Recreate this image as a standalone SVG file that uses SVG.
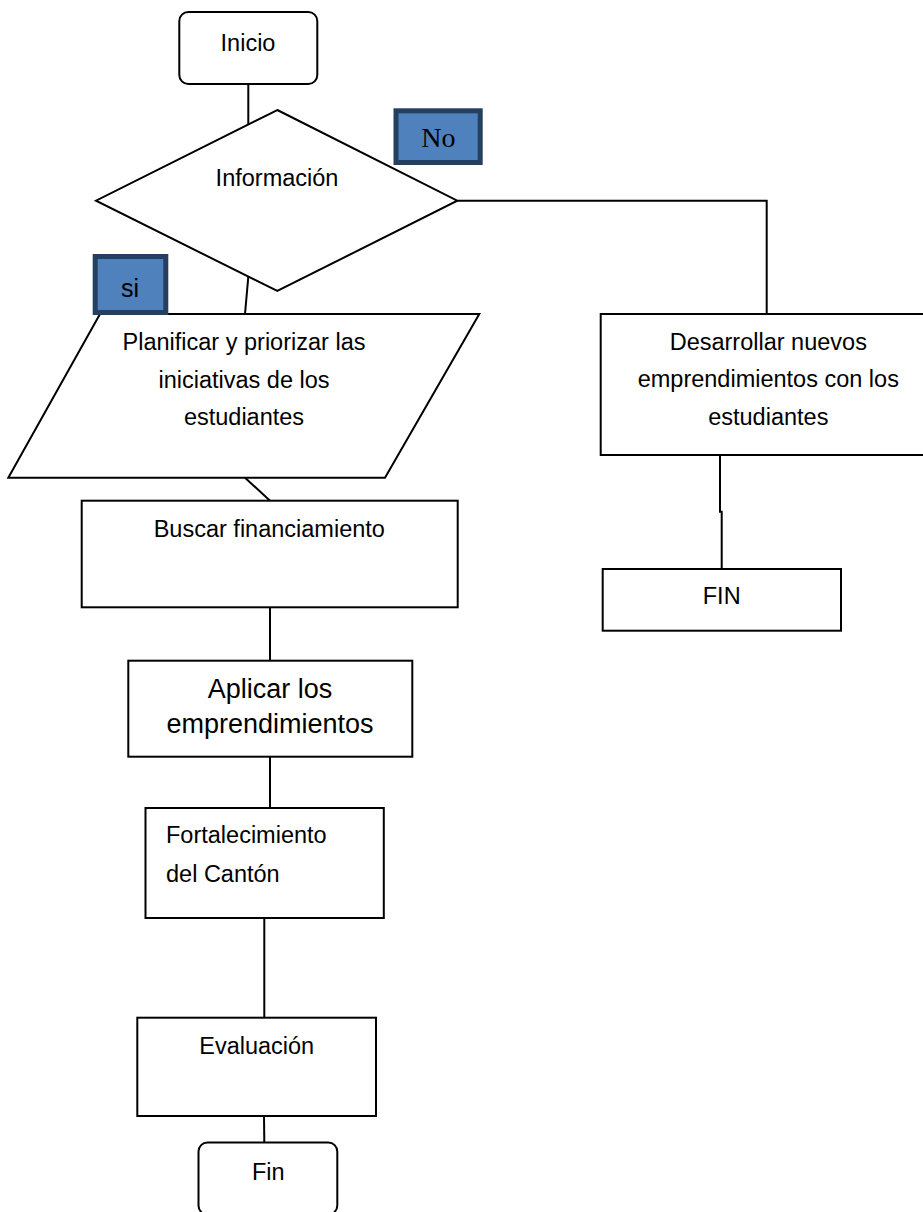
<svg xmlns="http://www.w3.org/2000/svg" width="923" height="1212" viewBox="0 0 923 1212">
  <style>
    .shape { fill: #ffffff; stroke: #000000; stroke-width: 2; }
    .link { fill: none; stroke: #000000; stroke-width: 2; }
    .tag { fill: #4f81bd; stroke: #243f60; stroke-width: 5; }
    .lbl { font-family: "Liberation Sans", Arial, sans-serif; font-size: 23.5px; fill: #000000; text-anchor: middle; }
    .left { text-anchor: start; }
    .big { font-size: 27px; }
    .serif { font-family: "Liberation Serif", "Times New Roman", serif; font-size: 28px; }
  </style>
  <rect width="923" height="1212" fill="#ffffff"/>

  <g id="connectors">
    <line class="link" x1="248.3" y1="84" x2="248.3" y2="124.5"/>
    <line class="link" x1="248.3" y1="276.9" x2="245" y2="314"/>
    <line class="link" x1="245" y1="477.7" x2="270" y2="500.7"/>
    <line class="link" x1="270" y1="607.3" x2="270" y2="660.7"/>
    <line class="link" x1="270" y1="756.7" x2="270" y2="808"/>
    <line class="link" x1="264.3" y1="918" x2="264.3" y2="1017.7"/>
    <line class="link" x1="264" y1="1116" x2="264.3" y2="1142.5"/>
    <polyline class="link" points="457.3,200.7 766.7,200.7 766.7,314"/>
    <polyline class="link" points="720,455 720,511.7 721.7,511.7 721.7,569"/>
  </g>

  <g id="inicio">
    <rect class="shape" x="179.3" y="12" width="138" height="72" rx="9"/>
    <text class="lbl" x="248" y="50.7">Inicio</text>
  </g>

  <g id="informacion">
    <polygon class="shape" points="277.3,110 457.3,200.7 277.3,291 96,200.7"/>
    <text class="lbl" x="277" y="185.7">Información</text>
  </g>

  <g id="planificar">
    <polygon class="shape" points="100,314 479.3,314 385,477.7 8.3,477.7"/>
    <text class="lbl" x="244" y="350">Planificar y priorizar las</text>
    <text class="lbl" x="244" y="387.7">iniciativas de los</text>
    <text class="lbl" x="244" y="425">estudiantes</text>
  </g>

  <g id="label-no">
    <rect class="tag" x="396" y="110.8" width="84.2" height="51.7"/>
    <text class="lbl serif" x="438.3" y="146.7">No</text>
  </g>

  <g id="label-si">
    <rect class="tag" x="95.2" y="256.5" width="70.6" height="56"/>
    <text class="lbl" x="130" y="296.7" style="font-size:25px">si</text>
  </g>

  <g id="buscar">
    <rect class="shape" x="81.7" y="500.7" width="376" height="106.6"/>
    <text class="lbl" x="269.3" y="536.7">Buscar financiamiento</text>
  </g>

  <g id="aplicar">
    <rect class="shape" x="128.3" y="660.7" width="284" height="96"/>
    <text class="lbl big" x="270" y="698.3">Aplicar los</text>
    <text class="lbl big" x="270" y="733.3">emprendimientos</text>
  </g>

  <g id="fortalecimiento">
    <rect class="shape" x="145.5" y="808" width="238.3" height="110"/>
    <text class="lbl left" x="166" y="842.7">Fortalecimiento</text>
    <text class="lbl left" x="166" y="881.7">del Cantón</text>
  </g>

  <g id="evaluacion">
    <rect class="shape" x="137.3" y="1017.7" width="238.7" height="98.3"/>
    <text class="lbl" x="256.7" y="1054">Evaluación</text>
  </g>

  <g id="fin">
    <rect class="shape" x="198.5" y="1142.5" width="138.8" height="72" rx="9"/>
    <text class="lbl" x="268.3" y="1180">Fin</text>
  </g>

  <g id="desarrollar">
    <rect class="shape" x="600.7" y="314" width="330" height="141"/>
    <text class="lbl" x="768.3" y="350">Desarrollar nuevos</text>
    <text class="lbl" x="768.3" y="387.3">emprendimientos con los</text>
    <text class="lbl" x="768.3" y="425">estudiantes</text>
  </g>

  <g id="fin-no">
    <rect class="shape" x="602.7" y="569" width="238.3" height="61.7"/>
    <text class="lbl" x="721.7" y="604.3">FIN</text>
  </g>
</svg>
